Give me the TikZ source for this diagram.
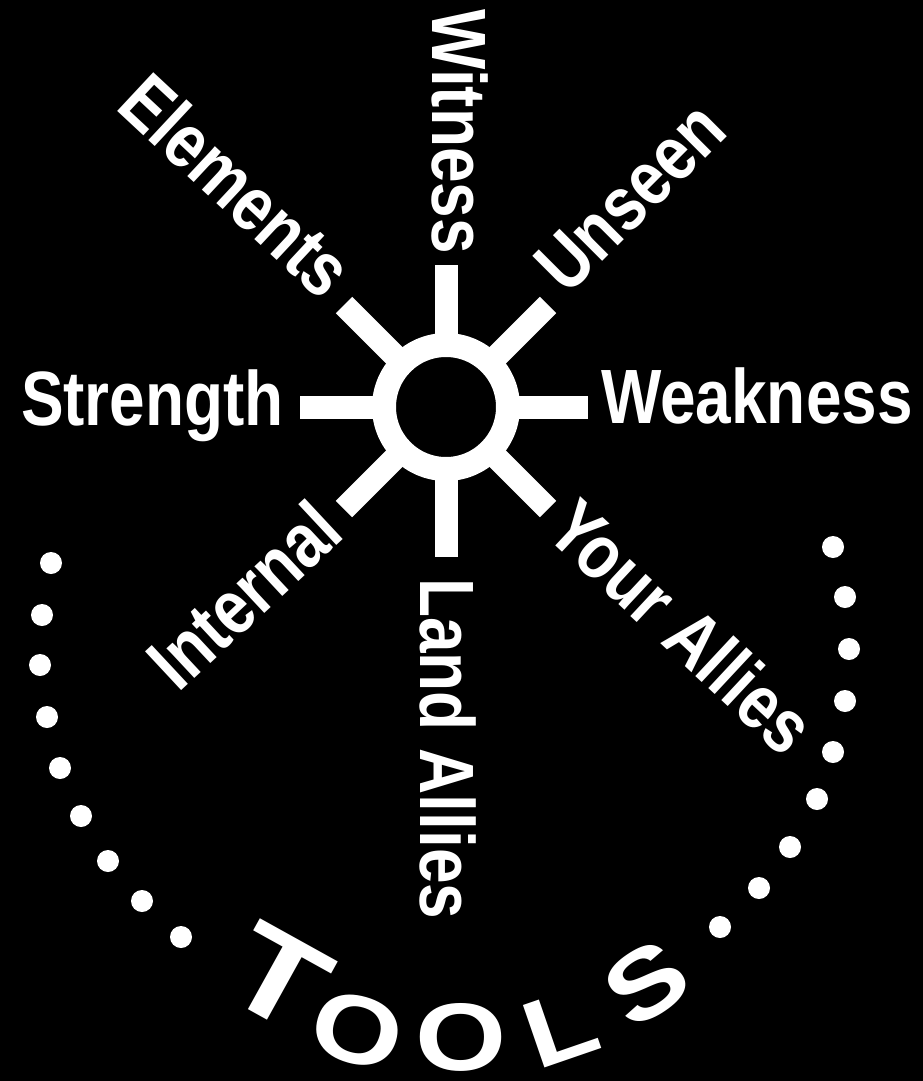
\documentclass[tikz,border=0pt]{standalone}
\usepackage{fontspec}
\newfontfamily\labfont{Liberation Sans}[FakeStretch=0.83]
\newfontfamily\toolfont{Liberation Sans}[FakeStretch=1.22]
\begin{document}
\begin{tikzpicture}[x=1pt,y=-1pt,
  lab/.style={text=white,inner sep=0pt,font=\labfont\bfseries\fontsize{77}{80}\selectfont},
  tool/.style={text=white,inner sep=0pt,font=\toolfont\bfseries\fontsize{96}{100}\selectfont},
  bigtool/.style={tool,font=\toolfont\bfseries\fontsize{124}{128}\selectfont},
  spoke/.style={draw=white,line width=23pt},
  dot/.style={fill=white}]
\fill[black] (0,0) rectangle (923,1081);
\useasboundingbox (0,0) rectangle (923,1081);
% hub
\node[circle,draw=white,line width=24pt,minimum size=124pt,inner sep=0pt,outer sep=0pt] (hub) at (446,407) {};
% spoke ends
\coordinate (eN) at (446,265);
\coordinate (eS) at (446,557);
\coordinate (eW) at (300,407);
\coordinate (eE) at (588,407);
\coordinate (eNW) at (344,305);
\coordinate (eNE) at (548,305);
\coordinate (eSW) at (344,509);
\coordinate (eSE) at (548,509);
\draw[spoke] (hub.north) -- (eN);
\draw[spoke] (hub.south) -- (eS);
\draw[spoke] (hub.west) -- (eW);
\draw[spoke] (hub.east) -- (eE);
\draw[spoke] (hub.north west) -- (eNW);
\draw[spoke] (hub.north east) -- (eNE);
\draw[spoke] (hub.south west) -- (eSW);
\draw[spoke] (hub.south east) -- (eSE);
% labels
\node[lab,anchor=base east] (strength) at (284,425) {Strength};
\node[lab,anchor=base west] (weakness) at (601,423) {Weakness};
\node[lab,rotate=-90,anchor=base east] (witness) at (432,254) {Witness};
\node[lab,rotate=-90,anchor=base west] (land) at (420,578) {Land Allies};
\node[lab,rotate=-43,anchor=base east] (elements) at (322,302) {Elements};
\node[lab,rotate=45,anchor=base west] (unseen) at (567,297) {Unseen};
\node[lab,rotate=43,anchor=base east] (internal) at (347,536) {Internal};
\node[lab,rotate=-43,anchor=base west] (yourallies) at (543,534) {Your Allies};
% dots
\foreach \p in {(51,563),(42,615),(40,665),(47,717),(60,768),(81,816),(108,861),(142,901),(181,937),
                (833,547),(845,597),(849,649),(845,701),(833,752),(817,799),(790,847),(759,888),(720,927)}
  \fill[dot] \p circle (11);
% TOOLS
\node[bigtool,rotate=-29] (t1) at (279,978) {T};
\node[tool,rotate=-16] (t2) at (357,1030) {O};
\node[tool,rotate=0] (t3) at (461,1037) {O};
\node[tool,rotate=19] (t4) at (561,1028) {L};
\node[tool,rotate=34] (t5) at (646,983) {S};
\end{tikzpicture}
\end{document}
